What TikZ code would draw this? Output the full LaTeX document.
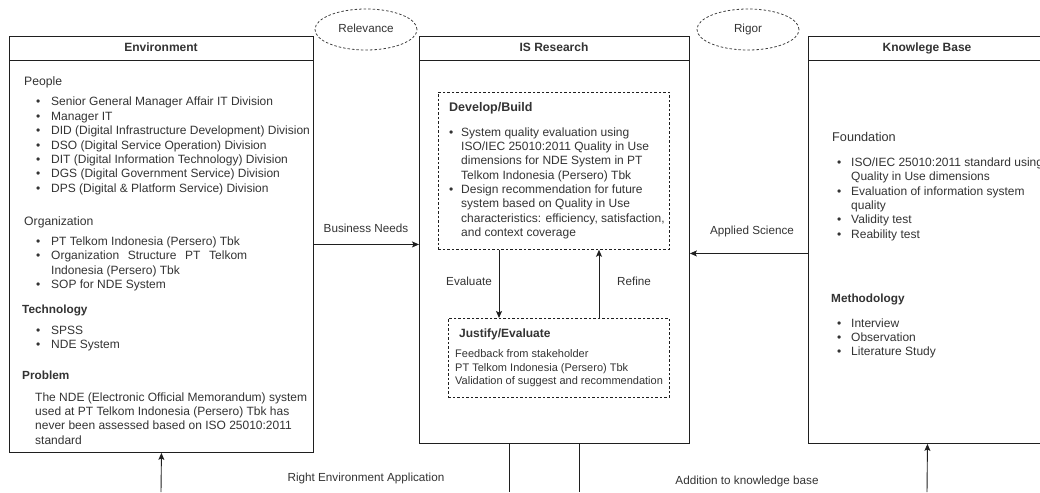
\documentclass[tikz,border=0pt]{standalone}
\usepackage{fontspec}
\setmainfont{Liberation Sans}
\usepackage{tikz}
\usetikzlibrary{shapes, positioning, arrows.meta}
\definecolor{txt}{HTML}{333333}
\definecolor{lin}{HTML}{1F1F1F}
\newcommand{\bul}[1][15pt]{\makebox[#1][l]{\textbullet}}
\newcommand{\ind}[1][15pt]{\hspace*{#1}}
\newcommand{\lst}[1]{\begin{tabular}[t]{@{}l@{}}#1\end{tabular}}

\begin{document}
\begin{tikzpicture}[x=1pt, y=-1pt,
	panel/.style={draw=lin, line width=0.9pt, rectangle, anchor=north west, inner sep=0pt},
	part/.style={draw=lin, line width=0.8pt, dash pattern=on 2.5pt off 2pt, rectangle, anchor=north west, inner sep=0pt},
	oval/.style={draw=black!75, line width=0.8pt, dash pattern=on 2.5pt off 2pt, ellipse, minimum width=102pt, minimum height=41pt, inner sep=0pt},
	head/.style={anchor=base, inner sep=0pt, text=txt, font=\fontsize{12}{14}\selectfont\bfseries},
	sect/.style={anchor=base west, inner sep=0pt, text=txt, font=\fontsize{12.2}{14}\selectfont},
	bsect/.style={sect, font=\fontsize{11.8}{14}\selectfont\bfseries},
	body/.style={anchor=base west, inner sep=0pt, text=txt, font=\fontsize{12}{14.35}\selectfont},
	lbl/.style={inner sep=0pt, text=txt, font=\fontsize{11.7}{13}\selectfont},
	link/.style={draw=lin, line width=0.9pt},
	tip/.style={-{Stealth[length=7pt, width=6pt, inset=1.5pt]}}]

	\useasboundingbox (0,0) rectangle (1040,492);

	%% Caixas principais
	\node[panel, minimum width=304pt, minimum height=416pt] (env) at (9,36) {};
	\node[panel, minimum width=270pt, minimum height=407pt] (isr) at (419,36) {};
	\node[panel, minimum width=238pt, minimum height=407pt] (kb) at (808,36) {};
	\draw[link] (env.north west) ++(0,24) -- ++(304,0);
	\draw[link] (isr.north west) ++(0,24) -- ++(270,0);
	\draw[link] (kb.north west) ++(0,24) -- ++(238,0);
	\node[head] (envT) at (161,52) {Environment};
	\node[head] (isrT) at (554,52) {IS Research};
	\node[head] (kbT) at (927,52) {Knowlege Base};

	%% Elipses
	\node[oval] (rel) at (366,29.5) {};
	\node[lbl, anchor=base] at (366,33) {Relevance};
	\node[oval] (rig) at (748,29.5) {};
	\node[lbl, anchor=base] at (748,33) {Rigor};

	%% Environment
	\node[sect] (ppl) at (24,85.5) {People};
	\node[body] (pplL) at (36,106) {\lst{\bul Senior General Manager Affair IT Division\\
		\bul Manager IT\\
		\bul DID (Digital Infrastructure Development) Division\\
		\bul DSO (Digital Service Operation) Division\\
		\bul DIT (Digital Information Technology) Division\\
		\bul DGS (Digital Government Service) Division\\
		\bul DPS (Digital \& Platform Service) Division}};
	\node[sect] (org) at (24,225) {Organization};
	\node[body] (orgL) at (36,245.5) {\lst{\bul PT Telkom Indonesia (Persero) Tbk\\
		\bul\makebox[196pt][s]{Organization Structure PT Telkom}\\
		\ind Indonesia (Persero) Tbk\\
		\bul SOP for NDE System}};
	\node[bsect] (tec) at (22,313) {Technology};
	\node[body] (tecL) at (36,334) {\lst{\bul SPSS\\ \bul NDE System}};
	\node[bsect] (prb) at (22,379) {Problem};
	\node[body] (prbL) at (35,401) {\lst{The NDE (Electronic Official Memorandum) system\\
		used at PT Telkom Indonesia (Persero) Tbk has\\
		never been assessed based on ISO 25010:2011\\
		standard}};

	%% IS Research
	\node[part, minimum width=231pt, minimum height=157pt] (dev) at (438,92) {};
	\node[bsect, font=\fontsize{12.5}{14}\selectfont\bfseries] (devT) at (449,112) {Develop/Build};
	\node[body] (devL) at (449,136) {\lst{\bul[12pt]System quality evaluation using\\
		\ind[12pt]ISO/IEC 25010:2011 Quality in Use\\
		\ind[12pt]dimensions for NDE System in PT\\
		\ind[12pt]Telkom Indonesia (Persero) Tbk\\
		\bul[12pt]Design recommendation for future\\
		\ind[12pt]system based on Quality in Use\\
		\ind[12pt]characteristics: efficiency, satisfaction,\\
		\ind[12pt]and context coverage}};
	\node[part, minimum width=221pt, minimum height=79pt] (jst) at (448,318) {};
	\node[bsect, font=\fontsize{12}{14}\selectfont\bfseries] (jstT) at (459,337) {Justify/Evaluate};
	\node[body, font=\fontsize{11}{13.5}\selectfont] (jstL) at (455,357.5) {\lst{Feedback from stakeholder\\
		PT Telkom Indonesia (Persero) Tbk\\
		Validation of suggest and recommendation}};
	\coordinate (evx) at (499,0);
	\coordinate (rfx) at (599,0);
	\draw[link, tip] (dev.south -| evx) -- (jst.north -| evx);
	\draw[link, tip] (jst.north -| rfx) -- (dev.south -| rfx);
	\node[lbl] (evL) at (469,281) {Evaluate};
	\node[lbl] (rfL) at (634,281) {Refine};

	%% Knowledge Base
	\node[sect, font=\fontsize{12.7}{14}\selectfont] (fnd) at (832,141.5) {Foundation};
	\node[body] (fndL) at (837,166.5) {\lst{\bul[14pt]ISO/IEC 25010:2011 standard using\\
		\ind[14pt]Quality in Use dimensions\\
		\bul[14pt]Evaluation of information system\\
		\ind[14pt]quality\\
		\bul[14pt]Validity test\\
		\bul[14pt]Reability test}};
	\node[bsect] (mth) at (831,302) {Methodology};
	\node[body] (mthL) at (837,327) {\lst{\bul[14pt]Interview\\
		\bul[14pt]Observation\\
		\bul[14pt]Literature Study}};

	%% Ligacoes
	\draw[link, tip] (env.east) -- (env.east -| isr.west);
	\node[lbl] (bnL) at (366,228) {Business Needs};
	\draw[link, tip] ([yshift=-13.5pt]kb.west) -- ([yshift=-13.5pt]kb.west -| isr.east);
	\node[lbl] (asL) at (752,231) {Applied Science};

	%% Parte de baixo
	\coordinate (envIn) at (161,492);
	\coordinate (isA) at (509,492);
	\coordinate (isB) at (579,492);
	\coordinate (kbIn) at (927,492);
	\draw[link, tip] (envIn) -- (env.south);
	\draw[link] (isr.south -| isA) -- (isA);
	\draw[link] (isr.south -| isB) -- (isB);
	\draw[link, tip] (kbIn) -- (kb.south);
	\node[lbl] (reL) at (366,478) {Right Environment Application};
	\node[lbl] (adL) at (747,481) {Addition to knowledge base};
\end{tikzpicture}
\end{document}
